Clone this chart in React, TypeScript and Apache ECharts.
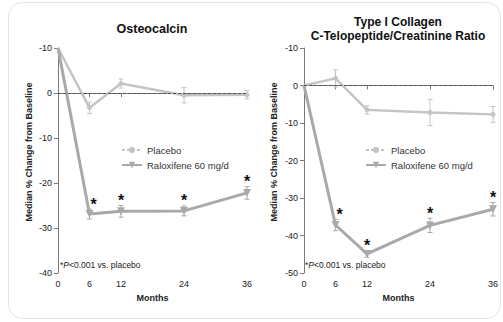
import React, { useEffect, useRef } from "react";
import * as echarts from "echarts";

const months = [0, 6, 12, 24, 36];
const monthTicks = [0, 6, 12, 24, 36];
const starMonths = [6, 12, 24, 36];

const osteoPlacebo = [10, -3.3, 2.1, -0.5, -0.4];
const osteoPlaceboErr = [0, 1.25, 1.0, 1.7, 0.9];
const osteoRalox = [10, -26.9, -26.3, -26.2, -22.2];
const osteoRaloxErr = [0, 1.1, 1.3, 1.1, 1.4];

const ctxPlacebo = [0, 1.9, -6.5, -7.2, -7.7];
const ctxPlaceboErr = [0, 2.3, 1.1, 3.5, 2.1];
const ctxRalox = [0, -37.2, -44.9, -37.3, -33.0];
const ctxRaloxErr = [0, 1.5, 0.9, 1.9, 1.8];

// tick labels as printed in the original figure (top label reads "-10")
const osteoYTicks: Record<number, string> = { 10: "-10", 0: "0", [-10]: "-10", [-20]: "-20", [-30]: "-30", [-40]: "-40" };
const ctxYTicks: Record<number, string> = { 10: "-10", 0: "0", [-10]: "-10", [-20]: "-20", [-30]: "-30", [-40]: "-40", [-50]: "-50" };

const titleLeft = "Osteocalcin";
const titleRight = "Type I Collagen\nC-Telopeptide/Creatinine Ratio";
const yName = "Median % Change from Baseline";
const xName = "Months";
const placeboName = "Placebo";
const raloxName = "Raloxifene 60 mg/d";

const FONT = "'Liberation Sans', Arial, Helvetica, sans-serif";
const PLACEBO_COLOR = "#c4c4c4";
const RALOX_COLOR = "#a9a9a9";
const AXIS_COLOR = "#7a7a7a";

function lineData(vals: number[]) {
  return months.map((m, i) => (i === 0 ? { value: [m, vals[i]], symbol: "none" } : [m, vals[i]]));
}

function errData(vals: number[], errs: number[]) {
  return months.map((m, i) => [m, vals[i], errs[i]]).filter((d) => d[2] > 0);
}

function starData(vals: number[], errs: number[]) {
  return starMonths.map((m) => {
    const i = months.indexOf(m);
    return [m, vals[i] + errs[i]];
  });
}

function errSeries(vals: number[], errs: number[], idx: number, color: string) {
  return {
    type: "custom",
    xAxisIndex: idx,
    yAxisIndex: idx,
    z: 4,
    silent: true,
    data: errData(vals, errs),
    renderItem: (params: any, api: any) => {
      const x = api.value(0);
      const y = api.value(1);
      const e = api.value(2);
      const top = api.coord([x, y + e]);
      const bot = api.coord([x, y - e]);
      const w = 2.5;
      const st = { stroke: color, lineWidth: 1 };
      return {
        type: "group",
        children: [
          { type: "line", shape: { x1: top[0], y1: top[1], x2: bot[0], y2: bot[1] }, style: st },
          { type: "line", shape: { x1: top[0] - w, y1: top[1], x2: top[0] + w, y2: top[1] }, style: st },
          { type: "line", shape: { x1: bot[0] - w, y1: bot[1], x2: bot[0] + w, y2: bot[1] }, style: st },
        ],
      };
    },
  };
}

function starSeries(vals: number[], errs: number[], idx: number) {
  return {
    type: "custom",
    xAxisIndex: idx,
    yAxisIndex: idx,
    z: 6,
    silent: true,
    data: starData(vals, errs),
    renderItem: (params: any, api: any) => {
      const x = api.value(0);
      const p = api.coord([x, api.value(1)]);
      const dx = x === 6 ? 4 : 0;
      return {
        type: "text",
        x: p[0] + dx,
        y: p[1] - 5,
        style: {
          text: "*",
          font: `bold 16px ${FONT}`,
          fill: "#111",
          align: "center",
          verticalAlign: "middle",
        },
      };
    },
  };
}

function placeboSeries(vals: number[], idx: number) {
  return {
    name: placeboName,
    type: "line",
    xAxisIndex: idx,
    yAxisIndex: idx,
    z: 3,
    data: lineData(vals),
    symbol: "circle",
    symbolSize: 5,
    lineStyle: { color: PLACEBO_COLOR, width: 2.5 },
    itemStyle: { color: PLACEBO_COLOR },
    markLine: {
      silent: true,
      symbol: "none",
      label: { show: false },
      lineStyle: { type: [3, 2], color: "#555", width: 1 },
      data: [{ yAxis: 0 }],
    },
  };
}

function raloxSeries(vals: number[], idx: number) {
  return {
    name: raloxName,
    type: "line",
    xAxisIndex: idx,
    yAxisIndex: idx,
    z: 3,
    data: lineData(vals),
    symbol: "triangle",
    symbolRotate: 180,
    symbolSize: 8,
    lineStyle: { color: RALOX_COLOR, width: 3 },
    itemStyle: { color: RALOX_COLOR },
  };
}

function xAxis(idx: number) {
  return {
    type: "value",
    gridIndex: idx,
    min: 0,
    max: 36,
    splitLine: { show: false },
    axisLine: { show: true, lineStyle: { color: AXIS_COLOR, width: 1 } },
    axisTick: { show: true, length: 4, customValues: monthTicks, lineStyle: { color: AXIS_COLOR } },
    axisLabel: { customValues: monthTicks, fontSize: 9, color: "#222", margin: 6, fontFamily: FONT },
    name: xName,
    nameLocation: "middle",
    nameGap: 20,
    nameTextStyle: { fontSize: 9, fontWeight: "bold", color: "#222", fontFamily: FONT },
  };
}

function yAxis(idx: number, min: number, labels: Record<number, string>) {
  return {
    type: "value",
    gridIndex: idx,
    min,
    max: 10,
    interval: 10,
    splitLine: { show: false },
    axisLine: { show: true, lineStyle: { color: AXIS_COLOR, width: 1 } },
    axisTick: { show: true, length: 4, lineStyle: { color: AXIS_COLOR } },
    axisLabel: {
      fontSize: 9,
      color: "#222",
      margin: 6,
      fontFamily: FONT,
      formatter: (v: number) => labels[v] ?? String(v),
    },
  };
}

function legend(left: number) {
  return {
    left,
    top: 145,
    orient: "vertical",
    itemWidth: 20,
    itemHeight: 8,
    itemGap: 5,
    padding: 0,
    selectedMode: false,
    textStyle: { fontSize: 9.5, color: "#333", fontFamily: FONT },
    data: [
      { name: placeboName, lineStyle: { type: [3, 2], width: 2 } },
      { name: raloxName },
    ],
  };
}

function footnote(x: number) {
  return {
    type: "text",
    x,
    y: 265,
    style: {
      text: "{a|*}{i|P}{a|<0.001 vs. placebo}",
      verticalAlign: "middle",
      rich: {
        a: { fontSize: 8.5, fontFamily: FONT, fill: "#222" },
        i: { fontSize: 8.5, fontFamily: FONT, fontStyle: "italic", fill: "#222" },
      },
    },
  };
}

function yTitle(x: number) {
  return {
    type: "text",
    x,
    y: 152,
    rotation: Math.PI / 2,
    style: {
      text: yName,
      font: `bold 9px ${FONT}`,
      fill: "#222",
      align: "center",
      verticalAlign: "middle",
    },
  };
}

export default function App() {
  const ref = useRef<HTMLDivElement>(null);
  useEffect(() => {
    if (!ref.current) return;
    const chart = echarts.init(ref.current, undefined, { renderer: "svg" });
    chart.setOption({
      animation: false,
      backgroundColor: "#ffffff",
      textStyle: { fontFamily: FONT },
      title: [
        {
          text: titleLeft,
          left: 152,
          top: 22,
          textAlign: "center",
          padding: 0,
          textStyle: { fontSize: 12.5, fontWeight: "bold", color: "#111", fontFamily: FONT },
        },
        {
          text: titleRight,
          left: 398,
          top: 15,
          textAlign: "center",
          padding: 0,
          textStyle: { fontSize: 12, fontWeight: "bold", color: "#111", lineHeight: 14, fontFamily: FONT },
        },
      ],
      legend: [legend(121), legend(365)],
      grid: [
        { left: 58, top: 48, width: 189, height: 225 },
        { left: 304, top: 48, width: 189, height: 225 },
      ],
      xAxis: [xAxis(0), xAxis(1)],
      yAxis: [yAxis(0, -40, osteoYTicks), yAxis(1, -50, ctxYTicks)],
      graphic: [
        {
          type: "rect",
          shape: { x: 8.5, y: 2.5, width: 492, height: 316, r: 14 },
          style: { fill: "none", stroke: "#e4e4e4", lineWidth: 1 },
          silent: true,
          z: -10,
        },
        yTitle(29),
        yTitle(274),
        footnote(60),
        footnote(305),
      ],
      series: [
        placeboSeries(osteoPlacebo, 0),
        raloxSeries(osteoRalox, 0),
        errSeries(osteoPlacebo, osteoPlaceboErr, 0, PLACEBO_COLOR),
        errSeries(osteoRalox, osteoRaloxErr, 0, RALOX_COLOR),
        starSeries(osteoRalox, osteoRaloxErr, 0),
        placeboSeries(ctxPlacebo, 1),
        raloxSeries(ctxRalox, 1),
        errSeries(ctxPlacebo, ctxPlaceboErr, 1, PLACEBO_COLOR),
        errSeries(ctxRalox, ctxRaloxErr, 1, RALOX_COLOR),
        starSeries(ctxRalox, ctxRaloxErr, 1),
      ],
    });
    return () => chart.dispose();
  }, []);
  return <div ref={ref} style={{ position: "fixed", left: 0, top: 0, width: 503, height: 322 }} />;
}
